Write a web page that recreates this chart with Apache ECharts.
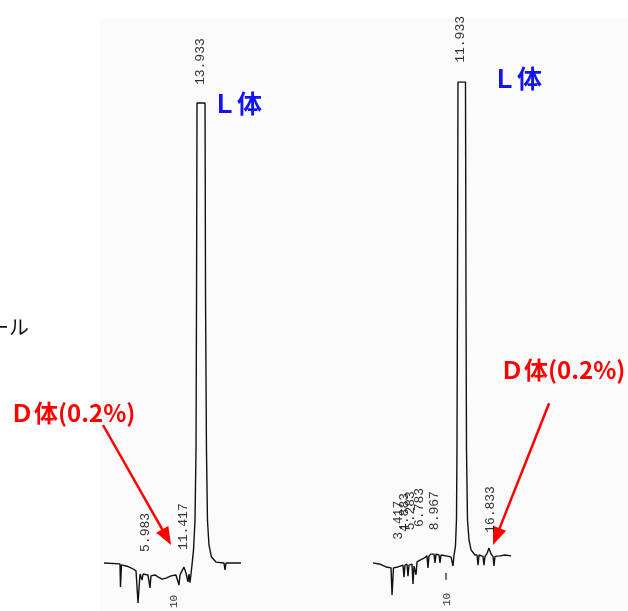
<!DOCTYPE html>
<html>
<head>
<meta charset="utf-8">
<script src="https://cdn.jsdelivr.net/npm/echarts@6/dist/echarts.min.js"></script>
<style>html,body{margin:0;padding:0;background:#fff;}#c{width:628px;height:611px;}</style>
</head>
<body>
<div id="c"></div>
<script>
// Left chromatogram (time in min, signal in relative units)
const leftTime = [0.42,2.65,2.72,2.86,3.63,4.47,4.89,5.17,5.45,5.73,5.87,6.56,6.84,6.98,7.54,7.96,8.52,9.08,9.78,10.47,10.89,11.03,11.31,11.59,11.87,12.15,12.29,12.43,12.57,12.71,12.92,13.13,13.27,13.34,13.41,14.53,14.60,14.73,14.87,15.08,15.43,16.06,17.18,17.32,17.46,19.55];
const leftSignal = [0,-0.2,-5.2,-0.4,-0.7,-1.3,-1.7,-8.7,-2.4,-3.7,-2.4,-2.6,-5.4,-2.8,-2.6,-3.0,-3.5,-3.3,-2.8,-2.6,-4.8,-2.6,-1.7,-0.9,-2.2,-4.1,-2.4,-4.3,-2.4,-0.4,2.8,9.3,24.6,57.2,100,100,57.2,24.6,9.3,3.9,1.3,0.2,0,-1.5,0,0];
// Right chromatogram
const rightTime = [-0.70,0.28,1.12,1.82,1.96,2.16,2.79,3.49,3.63,3.77,4.05,4.19,4.33,4.75,4.89,5.03,5.17,5.31,5.45,5.87,6.42,6.84,6.98,7.12,7.40,7.82,7.96,8.10,8.52,8.66,8.80,9.50,10.20,10.47,10.61,10.82,10.96,11.03,11.10,11.17,12.22,12.29,12.36,12.50,12.71,12.99,13.55,13.83,13.97,14.11,14.66,14.80,14.94,15.22,15.50,15.78,16.06,16.20,16.34,17.04,17.74,18.58];
const rightSignal = [-1.7,-2.0,-2.6,-2.8,-8.7,-2.8,-2.6,-2.2,-4.8,-2.2,-2.0,-4.6,-2.2,-2.0,-6.3,-2.4,-2.2,-4.3,-1.5,-1.1,-0.7,-0.2,-2.8,-0.2,0.2,0.2,-1.7,0.2,0,-1.7,0,-0.2,-0.4,-2.4,-0.2,2.0,7.6,22.8,55.4,102.8,102.8,55.4,22.8,7.6,3.3,1.1,0,0,-2.2,0,-0.3,-2.2,-0.3,0.3,1.5,0.2,-0.3,-2.4,-0.3,-0.2,0,-0.2];
// Peak retention-time labels
const leftPeakLabels = ['5.983','11.417','13.933'];
const leftPeakTime = [6.28,11.59,13.97];
const leftPeakSignal = [2.4,2.8,103.9];
const rightPeakLabels = ['3.417','4.883','5.283','6.783','8.967','11.933','16.833'];
const rightPeakTime = [2.93,3.77,4.61,5.87,7.96,11.59,15.78];
const rightPeakSignal = [3.3,5.0,5.4,6.1,5.4,107,4.8];
// Time markers
const markerLabels = ['10'];
const leftMarkerTime = [10.2];
const leftMarkerSignal = [-9.8];
const rightMarkerTime = [9.64];
const rightMarkerSignal = [-11.1];
const rightTickTime = [9.5, 9.5];
const rightTickSignal = [-3.9, -5.4];
// Arrow annotations (D-isomer) start / end in data coordinates
const leftArrow = [[0.28, 30.0], [9.17, 5.6]];
const rightArrow = [[23.9, 33.0], [16.52, 4.0]];

const zip = (a, b) => a.map((v, i) => [v, b[i]]);
const PX = 7.16; // px per minute
const monoFont = 'Liberation Mono';
const jpFont = 'Noto Sans CJK JP';

function labelSeries(xi, times, sigs, names, size) {
  return {
    type: 'scatter', xAxisIndex: xi, yAxisIndex: xi, clip: false, silent: true,
    symbolSize: 1, itemStyle: { color: 'rgba(0,0,0,0)' },
    data: zip(times, sigs),
    label: {
      show: true, position: 'inside', rotate: 90, align: 'left', verticalAlign: 'middle',
      formatter: p => names[p.dataIndex], fontFamily: monoFont, fontSize: size, color: '#000'
    },
    z: 5
  };
}
function arrowMark(coords) {
  return {
    silent: true, symbol: ['none', 'triangle'], symbolSize: [14, 18], precision: 3,
    label: { show: false },
    lineStyle: { color: '#ff0000', width: 2.5, type: 'solid' },
    itemStyle: { color: '#ff0000' },
    data: [[{ coord: coords[0] }, { coord: coords[1] }]]
  };
}

const chart = echarts.init(document.getElementById('c'), null, { renderer: 'canvas' });
const hiddenAxis = { show: false };
chart.setOption({
  animation: false,
  backgroundColor: '#ffffff',
  grid: [
    { left: 101 - PX, top: 57, width: 22 * PX, height: 552 },
    { left: 378 - PX, top: 49, width: 26 * PX, height: 552 }
  ],
  xAxis: [
    Object.assign({ type: 'value', gridIndex: 0, min: -1, max: 21 }, hiddenAxis),
    Object.assign({ type: 'value', gridIndex: 1, min: -1, max: 25 }, hiddenAxis)
  ],
  yAxis: [
    Object.assign({ type: 'value', gridIndex: 0, min: -10, max: 110 }, hiddenAxis),
    Object.assign({ type: 'value', gridIndex: 1, min: -10, max: 110 }, hiddenAxis)
  ],
  graphic: [
    { type: 'rect', left: 100, top: 18, z: -10, silent: true, shape: { width: 528, height: 593 }, style: { fill: '#fbfbfb' } },
    { type: 'text', left: -11, top: 317, silent: true, style: { text: 'ール', font: '20px "' + jpFont + '"', fill: '#111' } },
    { type: 'text', left: 212, top: 91, silent: true, style: { text: 'Ｌ体', font: 'bold 25px "' + jpFont + '"', fill: '#1414f0' } },
    { type: 'text', left: 492, top: 66, silent: true, style: { text: 'Ｌ体', font: 'bold 25px "' + jpFont + '"', fill: '#1414f0' } },
    { type: 'text', left: 10, top: 401, silent: true, style: { text: 'Ｄ体(0.2%)', font: 'bold 24px "' + jpFont + '"', fill: '#ff0000' } },
    { type: 'text', left: 500, top: 358, silent: true, style: { text: 'Ｄ体(0.2%)', font: 'bold 24px "' + jpFont + '"', fill: '#ff0000' } }
  ],
  series: [
    {
      type: 'line', xAxisIndex: 0, yAxisIndex: 0, data: zip(leftTime, leftSignal),
      showSymbol: false, symbol: 'none', silent: true,
      lineStyle: { color: '#111', width: 1.4 },
      markLine: arrowMark(leftArrow)
    },
    {
      type: 'line', xAxisIndex: 1, yAxisIndex: 1, data: zip(rightTime, rightSignal),
      showSymbol: false, symbol: 'none', silent: true,
      lineStyle: { color: '#111', width: 1.4 },
      markLine: arrowMark(rightArrow)
    },
    {
      type: 'line', xAxisIndex: 1, yAxisIndex: 1, data: zip(rightTickTime, rightTickSignal),
      showSymbol: false, symbol: 'none', silent: true,
      lineStyle: { color: '#111', width: 1.2 }
    },
    labelSeries(0, leftPeakTime, leftPeakSignal, leftPeakLabels, 13),
    labelSeries(1, rightPeakTime, rightPeakSignal, rightPeakLabels, 13),
    labelSeries(0, leftMarkerTime, leftMarkerSignal, markerLabels, 11),
    labelSeries(1, rightMarkerTime, rightMarkerSignal, markerLabels, 11)
  ]
});
</script>
</body>
</html>
